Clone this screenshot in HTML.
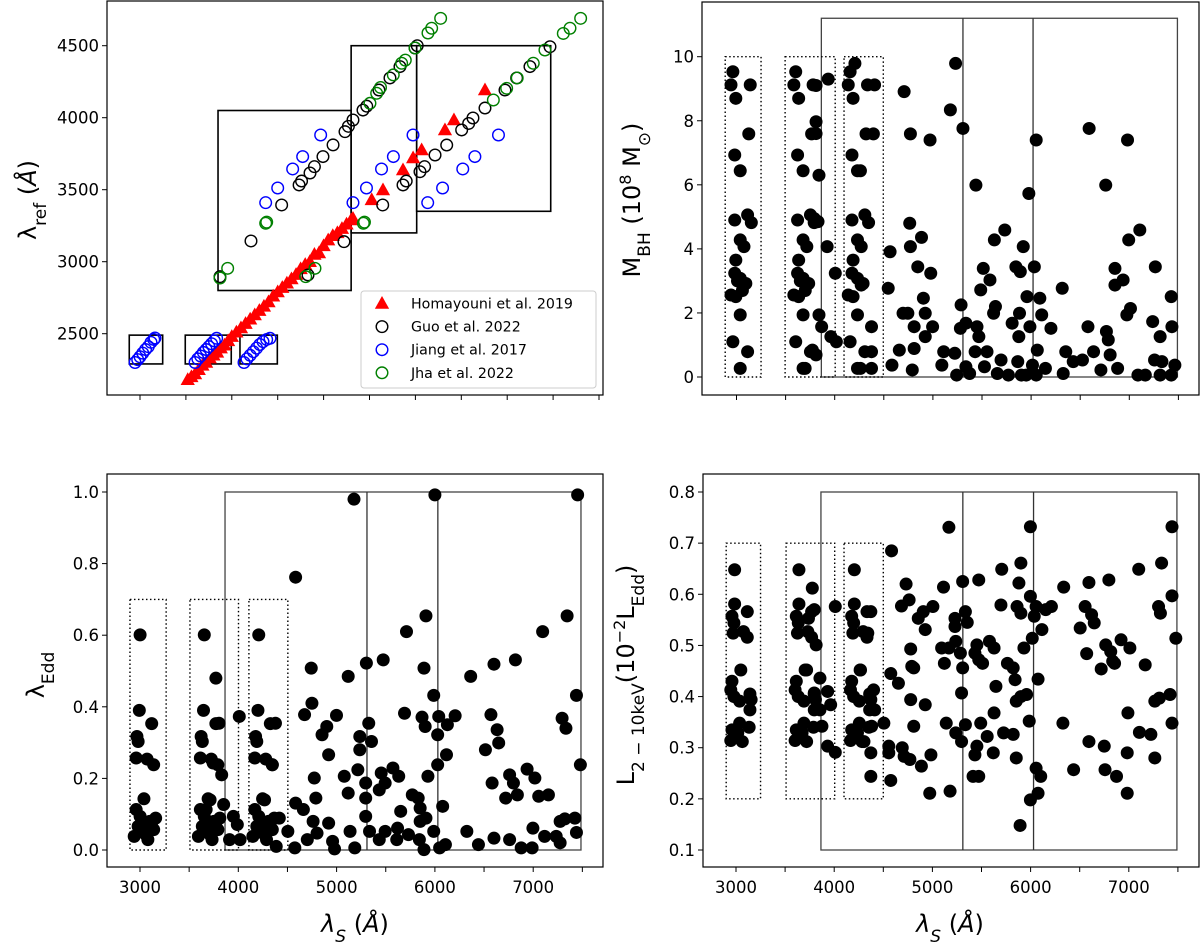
<!DOCTYPE html>
<html><head><meta charset="utf-8">
<style>
html,body{margin:0;padding:0;background:#fff;}
svg{display:block;font-family:"DejaVu Sans","Liberation Sans",sans-serif;}
</style></head>
<body>
<svg id="fig" width="1200" height="943" viewBox="0 0 1200 943" xmlns="http://www.w3.org/2000/svg">
<rect x="0" y="0" width="1200" height="943" fill="#fff"/>
<g id="tl"></g>
<g id="tr"></g>
<g id="bl"></g>
<g id="br"></g>
</svg>
<script>
// ---------- Top-left panel data ----------
const homX=[3520,3560,3600,3640,3680,3720,3760,3800,3840,3880,3920,3960,4000,4050,4100,4150,4200,4250,4300,4350,4400,4450,4500,4550,4600,4650,4700,4750,4800,4850,4900,4950,5000,5050,5100,5150,5200,5250,5300,5320,5524,5647,5865,5975,6068,6322,6420,6758];
const homY=[2180,2200,2220,2250,2280,2300,2330,2350,2370,2400,2420,2450,2480,2510,2540,2570,2600,2630,2660,2690,2720,2760,2790,2820,2850,2880,2910,2950,2980,3000,3050,3060,3110,3150,3180,3200,3230,3260,3290,3300,3429,3498,3637,3720,3776,3915,3984,4192];
const guoX=[3871,4209,4543,4733,4760,4852,4900,4993,5103,5233,5270,5320,5429,5470,5603,5723,5832,5996,6020,4830,5222,5644,5865,5900,6050,6100,6214,6341,6504,6580,6627,6758,6976,7103,7248,7466];
const guoY=[2896,3144,3394,3533,3560,3616,3660,3730,3811,3903,3940,3984,4053,4080,4192,4276,4355,4484,4500,2908,3139,3394,3533,3560,3625,3660,3741,3810,3915,3960,3998,4067,4192,4276,4355,4493];
const jiangX=[4369,4500,4663,4772,4968,5320,5467,5631,5760,5974,6134,6296,6516,6648,6905,2946,2975,3000,3030,3060,3090,3120,3150,3163,3600,3630,3660,3690,3720,3750,3780,3810,3835,4133,4165,4200,4235,4270,4305,4340,4380,4416];
const jiangY=[3410,3512,3644,3730,3880,3410,3512,3644,3730,3880,3410,3512,3644,3730,3880,2300,2320,2340,2365,2390,2410,2440,2460,2470,2300,2325,2345,2370,2390,2410,2430,2450,2468,2300,2325,2350,2375,2400,2425,2445,2460,2468];
const jhaX=[3871,3955,4369,4380,4805,4906,5433,5445,5505,5578,5620,5759,5850,5890,5996,6137,6177,6275,6849,6994,7109,7284,7411,7611,7684,7800];
const jhaY=[2887,2954,3267,3275,2896,2954,3267,3275,4100,4170,4210,4297,4378,4400,4484,4588,4621,4690,4123,4204,4276,4378,4470,4585,4621,4690];
const tlYTicks=[2500,3000,3500,4000,4500];
const tlXTicks=[3000,3500,4000,4500,5000,5500,6000,6500,7000,7500,8000];
const legendLabels=["Homayouni et al. 2019","Guo et al. 2022","Jiang et al. 2017","Jha et al. 2022"];

// ---------- Top-right (M_BH) data ----------
const mbhX=[2963,2944,2993,2982,3038,2982,3113,3151,3038,3076,2993,2982,3038,2944,2993,3076,3095,3038,2963,3113,3038,3140,3125,3010,3060,
3603,3584,3633,3622,3678,3622,3753,3791,3678,3716,3633,3622,3678,3584,3633,3716,3735,3678,3603,3753,3678,3780,3765,3650,3700,
3810,3810,3840,3810,3934,3923,4006,3840,3867,3773,3810,3961,4017,3699,3791,3830,
4157,4138,4187,4176,4232,4176,4307,4345,4232,4270,4187,4176,4232,4138,4187,4270,4289,4232,4157,4307,4232,4334,4319,4206,4406,4394,4262,4375,4375,4375,4262,
4564,4545,4583,4658,4707,4771,4764,4771,4884,4846,4978,4903,4696,4745,4809,4922,4997,4922,4809,4790,4971,5178,5231,5306,5438,5287,5280,5336,5110,5091,5223,5242,5336,5449,5468,5430,5551,5525,5513,5487,5581,5626,5732,5618,5637,5694,5656,5769,5807,5882,5875,5845,5890,5920,5864,5901,5977,5988,5958,6052,6033,6063,6014,6089,6108,6146,6052,6202,6317,6353,6327,6429,6523,6579,6636,6591,6711,6767,6786,6805,6881,6854,6854,6937,6760,6982,6994,7012,6975,7107,7238,7314,7265,7257,7332,7088,7163,7314,7427,7434,7464,7427,5950,5374];
const mbhY=[9.53,9.12,8.70,6.93,6.44,4.90,5.06,4.82,4.28,4.07,3.65,3.24,3.08,2.56,2.51,2.87,2.92,1.94,1.10,0.79,0.27,9.12,7.59,3.0,2.7,
9.53,9.12,8.70,6.93,6.44,4.90,5.06,4.82,4.28,4.07,3.65,3.24,3.08,2.56,2.51,2.87,2.92,1.94,1.10,0.79,0.27,9.12,7.59,3.0,2.7,
7.97,7.60,6.30,9.10,9.30,4.07,3.24,1.94,1.57,0.84,0.69,1.26,1.10,0.27,4.95,4.85,
9.53,9.12,8.70,6.93,6.44,4.90,5.06,4.82,4.28,4.07,3.65,3.24,3.08,2.56,2.51,2.87,2.92,1.94,1.10,0.79,0.27,9.12,7.59,9.79,9.12,7.59,6.44,1.57,0.79,0.27,0.27,
3.91,2.77,0.37,0.84,8.91,7.59,4.80,4.07,4.36,3.44,3.24,2.46,1.99,1.99,1.57,1.99,1.57,1.26,0.89,0.22,7.40,8.34,9.79,7.76,5.99,2.25,1.52,1.68,0.79,0.37,0.74,0.06,0.32,1.57,1.26,0.79,0.79,0.32,3.39,2.72,3.03,4.28,4.59,1.99,2.20,0.53,0.11,0.06,1.68,1.99,1.26,3.44,3.29,4.07,0.48,0.06,5.73,1.57,2.51,7.40,3.44,0.84,0.37,2.46,1.94,0.27,0.06,1.52,2.77,0.79,0.11,0.48,0.53,1.57,0.79,7.76,0.22,1.42,1.16,0.69,0.27,3.39,2.87,3.03,5.99,7.40,4.28,2.14,1.94,4.59,1.73,1.26,3.44,0.53,0.48,0.06,0.06,0.06,2.51,1.57,0.37,0.06,0.06,0.11];
const trYTicks=[0,2,4,6,8,10];
const rXTicks=[3000,3500,4000,4500,5000,5500,6000,6500,7000,7500];
const rXLabels=[3000,4000,5000,6000,7000];

// ---------- Bottom-left (lambda_Edd) data ----------
const eddX=[3001,2993,2969,2981,3119,2961,3072,3139,3040,2961,3001,3099,3159,2941,3060,3139,2981,3080,3020,3119,
3654,3646,3622,3634,3772,3614,3725,3792,3693,3614,3654,3752,3812,3594,3713,3792,3634,3733,3673,3772,
3772,3804,3744,3831,4010,3851,3950,3990,3911,4018,3713,3673,
4208,4200,4176,4188,4326,4168,4279,4346,4247,4168,4208,4306,4366,4148,4267,4346,4188,4287,4227,4326,
4378,4417,4386,4504,4267,4346,
4583,4575,4583,4662,4674,4742,4749,4773,4789,4761,4801,4702,4852,4900,4919,4999,4919,4959,4979,5118,5078,5177,5118,5137,5185,5216,5236,5236,5296,5303,5327,5355,5296,5296,5335,5474,5454,5434,5494,5573,5632,5434,5494,5612,5620,5711,5691,5652,5770,5830,5850,5850,5731,5842,5909,5889,5869,5901,5929,5909,5988,5889,5988,6000,6039,6028,6028,6079,6118,6127,6206,6107,6048,6325,6364,6443,6514,6570,6582,6601,6633,6649,6601,6720,6760,6799,6819,6839,6760,6878,6938,7017,6997,6989,7056,7096,7155,7116,7234,7274,7274,7294,7333,7345,7322,7424,7452,7440,7480,7440];
const eddY=[0.601,0.39,0.317,0.303,0.353,0.257,0.254,0.238,0.143,0.113,0.094,0.08,0.089,0.038,0.043,0.057,0.066,0.029,0.061,0.066,
0.601,0.39,0.317,0.303,0.353,0.257,0.254,0.238,0.143,0.113,0.094,0.08,0.089,0.038,0.043,0.057,0.066,0.029,0.061,0.066,
0.48,0.354,0.243,0.21,0.373,0.127,0.094,0.071,0.029,0.029,0.14,0.113,
0.601,0.39,0.317,0.303,0.353,0.257,0.254,0.238,0.143,0.113,0.094,0.08,0.089,0.038,0.043,0.057,0.066,0.029,0.061,0.066,
0.354,0.089,0.01,0.052,0.14,0.238,
0.762,0.006,0.131,0.113,0.378,0.508,0.41,0.201,0.145,0.08,0.047,0.029,0.322,0.345,0.266,0.376,0.075,0.024,0.003,0.485,0.206,0.98,0.159,0.052,0.006,0.224,0.28,0.317,0.187,0.522,0.354,0.303,0.145,0.094,0.052,0.531,0.215,0.168,0.187,0.229,0.206,0.029,0.052,0.029,0.061,0.61,0.382,0.108,0.154,0.145,0.117,0.08,0.043,0.029,0.654,0.508,0.371,0.345,0.206,0.089,0.052,0.001,0.432,0.992,0.373,0.322,0.238,0.122,0.266,0.35,0.375,0.015,0.006,0.052,0.485,0.015,0.28,0.378,0.187,0.519,0.336,0.299,0.033,0.145,0.21,0.187,0.531,0.154,0.029,0.006,0.226,0.201,0.061,0.006,0.15,0.61,0.154,0.038,0.038,0.02,0.08,0.368,0.34,0.654,0.087,0.089,0.992,0.432,0.238,0.049];
const blYTicks=[0.0,0.2,0.4,0.6,0.8,1.0];

// ---------- Bottom-right (L_2-10keV) data ----------
const lxX=[2986,2986,3115,2959,2979,2971,3076,3115,3049,2959,2947,2979,3037,3142,3154,3142,3037,2959,3134,2947,3064,3018,
3641,3641,3770,3614,3634,3626,3731,3770,3704,3614,3602,3634,3692,3797,3809,3797,3692,3614,3789,3602,3719,3673,
3777,3797,3816,3855,3797,3933,3855,3875,3964,4011,3933,4011,3738,3719,
4205,4205,4334,4178,4198,4190,4295,4334,4268,4178,4166,4198,4256,4361,4373,4361,4256,4178,4353,4166,4283,4237,
4373,4401,4412,4381,4373,4373,4303,4264,4342,
4584,4506,4576,4654,4556,4556,4576,4693,4712,4771,4888,4732,4685,4763,4779,4790,4810,4779,4810,4856,4907,4927,5005,4927,4985,4973,5113,5094,5122,5168,5141,5180,5168,5230,5230,5238,5285,5308,5297,5336,5355,5308,5336,5238,5297,5472,5453,5433,5472,5511,5492,5453,5433,5472,5414,5558,5581,5628,5628,5647,5620,5706,5698,5725,5764,5823,5842,5823,5854,5901,5881,5862,5901,5854,5901,5959,5932,5986,5893,5998,5998,6037,6056,6017,5998,6076,6056,6103,6076,6115,6154,6212,6337,6329,6438,6505,6555,6594,6621,6648,6571,6594,6750,6758,6797,6765,6816,6719,6836,6855,6875,6984,6991,6921,7011,6984,7108,7101,7167,7225,7265,7265,7311,7303,7322,7334,7420,7440,7440,7440,7479];
const lxY=[0.648,0.581,0.566,0.557,0.544,0.524,0.527,0.516,0.452,0.43,0.413,0.4,0.391,0.405,0.394,0.374,0.348,0.335,0.34,0.314,0.312,0.329,
0.648,0.581,0.566,0.557,0.544,0.524,0.527,0.516,0.452,0.43,0.413,0.4,0.391,0.405,0.394,0.374,0.348,0.335,0.34,0.314,0.312,0.329,
0.612,0.57,0.501,0.436,0.407,0.41,0.374,0.342,0.384,0.576,0.303,0.291,0.553,0.452,
0.648,0.581,0.566,0.557,0.544,0.524,0.527,0.516,0.452,0.43,0.413,0.4,0.391,0.405,0.394,0.374,0.348,0.335,0.34,0.314,0.312,0.329,
0.566,0.413,0.374,0.342,0.29,0.244,0.312,0.452,0.524,
0.685,0.348,0.445,0.426,0.303,0.29,0.236,0.3,0.283,0.277,0.264,0.62,0.577,0.589,0.493,0.459,0.456,0.394,0.342,0.553,0.566,0.531,0.576,0.384,0.286,0.211,0.614,0.495,0.465,0.495,0.348,0.215,0.731,0.553,0.537,0.508,0.485,0.456,0.407,0.566,0.545,0.625,0.345,0.329,0.312,0.628,0.501,0.485,0.472,0.465,0.348,0.303,0.286,0.244,0.244,0.322,0.508,0.495,0.368,0.42,0.29,0.649,0.579,0.329,0.465,0.456,0.433,0.326,0.28,0.661,0.622,0.576,0.563,0.391,0.4,0.404,0.495,0.352,0.148,0.732,0.596,0.557,0.576,0.514,0.198,0.211,0.26,0.244,0.434,0.531,0.57,0.576,0.614,0.348,0.257,0.534,0.576,0.623,0.56,0.544,0.484,0.312,0.303,0.257,0.628,0.501,0.488,0.454,0.469,0.465,0.244,0.29,0.368,0.511,0.495,0.211,0.33,0.649,0.462,0.326,0.28,0.391,0.397,0.576,0.563,0.661,0.404,0.348,0.597,0.732,0.514];
const brYTicks=[0.1,0.2,0.3,0.4,0.5,0.6,0.7,0.8];

// ---------- helpers ----------
const NS="http://www.w3.org/2000/svg";
function mk(parent,tag,attrs){const e=document.createElementNS(NS,tag);for(const k in attrs)e.setAttribute(k,attrs[k]);parent.appendChild(e);return e;}

const tlx=v=>140+(v-3000)*0.0918, tly=v=>45.7+(4500-v)*0.144;
const trx=v=>736.5+(v-3000)*0.0982, try_=v=>377-v*32.03;
const blx=v=>140+(v-3000)*0.0983, bly=v=>850-v*358;
const brx=v=>736+(v-3000)*0.0982, bry=v=>850-(v-0.1)*(358/0.7);

function frame(g,x0,y0,x1,y1){
  const r=mk(g,'rect',{x:x0,y:y0,width:x1-x0,height:y1-y0,fill:'none',stroke:'#000','stroke-width':1.2});
  
  
}
function yTicks(g,ticks,sy,x0,fmt){
  ticks.forEach(t=>{
    const y=sy(t);
    const l=mk(g,'line',{x1:x0-5,x2:x0,y1:y,y2:y,stroke:'#000','stroke-width':1});
    
    
    const tx=mk(g,'text',{x:x0-8,y:y+6,'text-anchor':'end','font-size':16.5,fill:'#000'});
    tx.textContent=fmt(t);
    
    
  });
}
function xTicks(g,ticks,sx,y0){
  ticks.forEach(t=>{
    const x=sx(t);
    const l=mk(g,'line',{x1:x,x2:x,y1:y0,y2:y0+5,stroke:'#000','stroke-width':1});
    
    
  });
}
function xLabels(g,labels,sx,y){
  labels.forEach(t=>{
    const tx=mk(g,'text',{x:sx(t),y:y,'text-anchor':'middle','font-size':16.5,fill:'#000'});
    tx.textContent=String(t);
    
    
  });
}
function rectD(g,sx,sy,xa,xb,ya,yb,dotted,name,color,w){
  const x=sx(xa),x2=sx(xb),y=sy(yb),y2=sy(ya);
  const a={x:x,y:y,width:x2-x,height:y2-y,fill:'none',stroke:color||'#444','stroke-width':w||1.3};
  if(dotted)a['stroke-dasharray']='1.5,2.5';
  const r=mk(g,'rect',a);
  
  
}
function vline(g,sx,sy,xv,ya,yb){
  const l=mk(g,'line',{x1:sx(xv),x2:sx(xv),y1:sy(ya),y2:sy(yb),stroke:'#333','stroke-width':1.3});
  
  
}
function dots(g,xs,ys,sx,sy){
  for(let i=0;i<xs.length;i++){
    const c=mk(g,'circle',{cx:sx(xs[i]),cy:sy(ys[i]),r:6.5,fill:'#000'});
    
    
  }
}
function title(g,txt,x,y,rot,name){
  const t=mk(g,'text',{x:x,y:y,'text-anchor':'middle','font-size':24,fill:'#000',transform:rot?`rotate(-90 ${x} ${y})`:''});
  t.innerHTML=txt;
  
  
}

// ---------- Top-left ----------
const tl=document.getElementById('tl');
frame(tl,107,1,603,395);
yTicks(tl,tlYTicks,tly,107,v=>String(v));
xTicks(tl,tlXTicks,tlx,395);
title(tl,'λ<tspan baseline-shift="sub" font-size="17">ref</tspan> (<tspan font-style="italic">Å</tspan>)',36,200,true,'y-axis-title');
rectD(tl,tlx,tly,3850,5300,2800,4050,false,'bin-box',"#000",1.6);
rectD(tl,tlx,tly,5300,6014,3200,4500,false,'bin-box',"#000",1.6);
rectD(tl,tlx,tly,6014,7474,3350,4500,false,'bin-box',"#000",1.6);
rectD(tl,tlx,tly,2883,3247,2290,2490,false,'bin-box',"#000",1.6);
rectD(tl,tlx,tly,3493,3994,2290,2490,false,'bin-box',"#000",1.6);
rectD(tl,tlx,tly,4089,4496,2290,2490,false,'bin-box',"#000",1.6);
function tri(g,cx,cy,color){
  const s=7.5;
  return mk(g,'polygon',{points:`${cx},${cy-s} ${cx-s*0.95},${cy+s*0.7} ${cx+s*0.95},${cy+s*0.7}`,fill:color});
}
function ring(g,cx,cy,color){
  return mk(g,'circle',{cx:cx,cy:cy,r:5.8,fill:'none',stroke:color,'stroke-width':1.4});
}
for(let i=0;i<homX.length;i++){
  const p=tri(tl,tlx(homX[i]),tly(homY[i]),'#ff0000');
  
  
}
for(let i=0;i<guoX.length;i++){
  const c=ring(tl,tlx(guoX[i]),tly(guoY[i]),'#000');
  
  
}
for(let i=0;i<jiangX.length;i++){
  const c=ring(tl,tlx(jiangX[i]),tly(jiangY[i]),'#0000ff');
  
  
}
for(let i=0;i<jhaX.length;i++){
  const c=ring(tl,tlx(jhaX[i]),tly(jhaY[i]),'#008000');
  
  
}
const lg=mk(tl,'g',{});


const lb=mk(lg,'rect',{x:361,y:291,width:235,height:97,rx:3,fill:'#fff','fill-opacity':0.85,stroke:'#ccc','stroke-width':1});


const legColors=['#ff0000','#000','#0000ff','#008000'];
legendLabels.forEach((lab,i)=>{
  const y=303.5+i*23.1;
  const m=i===0?tri(lg,382,y,'#ff0000'):ring(lg,382,y,legColors[i]);
  
  
  const t=mk(lg,'text',{x:411,y:y+5,'font-size':14.2,fill:'#000'});
  t.textContent=lab;
  
  
});

// ---------- Top-right ----------
const tr=document.getElementById('tr');
frame(tr,702,2,1199,395);
yTicks(tr,trYTicks,try_,702,v=>String(v));
xTicks(tr,rXTicks,trx,395);
title(tr,'M<tspan baseline-shift="sub" font-size="17">BH</tspan> (10<tspan baseline-shift="super" font-size="16">8</tspan> M<tspan baseline-shift="sub" font-size="17">⊙</tspan>)',640,200,true,'y-axis-title');
rectD(tr,trx,try_,3864,7490,0,11.2,false,'bin-box');
vline(tr,trx,try_,5306,0,11.2);
vline(tr,trx,try_,6020,0,11.2);
rectD(tr,trx,try_,2885,3250,0,10,true,'dotted-bin-box','#000',1.4);
rectD(tr,trx,try_,3495,4005,0,10,true,'dotted-bin-box','#000',1.4);
rectD(tr,trx,try_,4095,4495,0,10,true,'dotted-bin-box','#000',1.4);
dots(tr,mbhX,mbhY,trx,try_);

// ---------- Bottom-left ----------
const bl=document.getElementById('bl');
frame(bl,107,474,603,867);
yTicks(bl,blYTicks,bly,107,v=>v.toFixed(1));
xTicks(bl,rXTicks,blx,867);
xLabels(bl,rXLabels,blx,893);
title(bl,'λ<tspan baseline-shift="sub" font-size="17">Edd</tspan>',44,675,true,'y-axis-title');
title(bl,'<tspan font-style="italic">λ</tspan><tspan baseline-shift="sub" font-size="17" font-style="italic">S</tspan> (<tspan font-style="italic">Å</tspan>)',355,932,false,'x-axis-title');
rectD(bl,blx,bly,3865,7486,0,1.0,false,'bin-box');
vline(bl,blx,bly,5309,0,1.0);
vline(bl,blx,bly,6030,0,1.0);
rectD(bl,blx,bly,2898,3266,0,0.7,true,'dotted-bin-box','#000',1.4);
rectD(bl,blx,bly,3508,4002,0,0.7,true,'dotted-bin-box','#000',1.4);
rectD(bl,blx,bly,4108,4504,0,0.7,true,'dotted-bin-box','#000',1.4);
dots(bl,eddX,eddY,blx,bly);

// ---------- Bottom-right ----------
const br=document.getElementById('br');
frame(br,703,474,1199,867);
yTicks(br,brYTicks,bry,703,v=>v.toFixed(1));
xTicks(br,rXTicks,brx,867);
xLabels(br,rXLabels,brx,893);
title(br,'L<tspan baseline-shift="sub" font-size="17">2 − 10keV</tspan>(10<tspan baseline-shift="super" font-size="16">−2</tspan>L<tspan baseline-shift="sub" font-size="17">Edd</tspan>)',634,675,true,'y-axis-title');
title(br,'<tspan font-style="italic">λ</tspan><tspan baseline-shift="sub" font-size="17" font-style="italic">S</tspan> (<tspan font-style="italic">Å</tspan>)',950,932,false,'x-axis-title');
rectD(br,brx,bry,3865,7490,0.1,0.8,false,'bin-box');
vline(br,brx,bry,5310,0.1,0.8);
vline(br,brx,bry,6030,0.1,0.8);
rectD(br,brx,bry,2900,3250,0.2,0.7,true,'dotted-bin-box','#000',1.4);
rectD(br,brx,bry,3510,4005,0.2,0.7,true,'dotted-bin-box','#000',1.4);
rectD(br,brx,bry,4100,4500,0.2,0.7,true,'dotted-bin-box','#000',1.4);
dots(br,lxX,lxY,brx,bry);
</script>
</body></html>
